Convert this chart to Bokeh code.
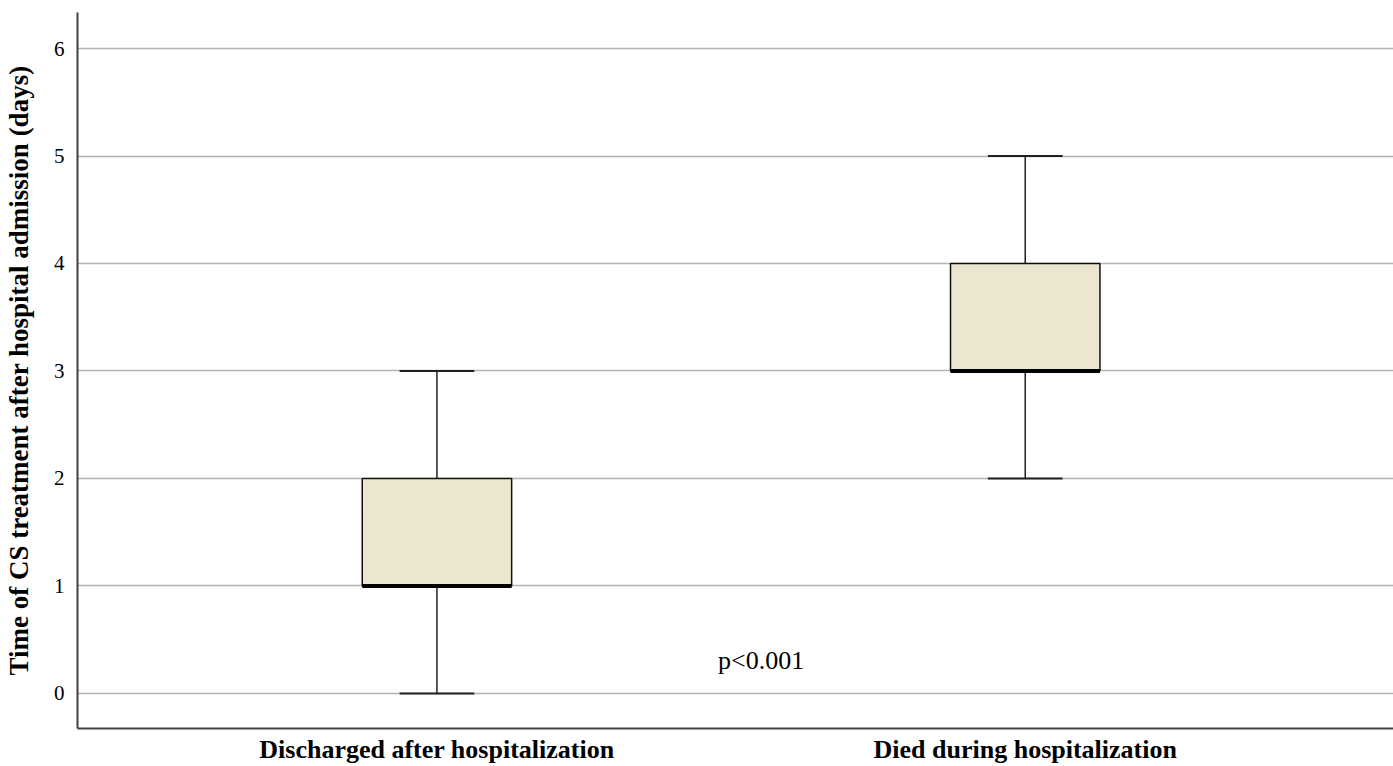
from bokeh.plotting import figure
from bokeh.models import Range1d, FixedTicker, ColumnDataSource, Label
from bokeh.embed import file_html
from bokeh.resources import INLINE

# ---- data ----
groups = ["Discharged after hospitalization", "Died during hospitalization"]
lower_whisker = [0, 2]
q1 = [1, 3]
median = [1, 3]
q3 = [2, 4]
upper_whisker = [3, 5]
y_ticks = [0, 1, 2, 3, 4, 5, 6]
p_text = "p<0.001"

FONT = "Liberation Serif"
box_w = 0.254
cap_w = box_w / 2

xs = list(range(len(groups)))
src = ColumnDataSource(dict(
    x=xs,
    lw=lower_whisker, q1=q1, med=median, q3=q3, uw=upper_whisker,
    cap_l=[x - cap_w / 2 for x in xs], cap_r=[x + cap_w / 2 for x in xs],
    box_l=[x - box_w / 2 for x in xs], box_r=[x + box_w / 2 for x in xs],
))

p = figure(width=1393, height=766, output_backend="svg", toolbar_location=None,
           x_range=Range1d(-0.611, 1.626), y_range=Range1d(-0.326, 6.335),
           min_border_left=77, min_border_right=0, min_border_top=12, min_border_bottom=36)
p.outline_line_color = None
p.background_fill_color = "white"

# whiskers
p.segment(x0="x", y0="q3", x1="x", y1="uw", source=src, line_color="#202020", line_width=1.5)
p.segment(x0="x", y0="lw", x1="x", y1="q1", source=src, line_color="#202020", line_width=1.5)
# caps
p.segment(x0="cap_l", y0="uw", x1="cap_r", y1="uw", source=src, line_color="#202020", line_width=2)
p.segment(x0="cap_l", y0="lw", x1="cap_r", y1="lw", source=src, line_color="#202020", line_width=2)
# boxes
p.quad(left="box_l", right="box_r", bottom="q1", top="q3", source=src,
       fill_color="#ece6d1", line_color="#101010", line_width=1.5)
# median
p.segment(x0="box_l", y0="med", x1="box_r", y1="med", source=src, line_color="black", line_width=4)

p.add_layout(Label(x=0.551, y=0.307, text=p_text, text_font=FONT, text_font_size="26px",
                   text_align="center", text_baseline="middle", text_color="black"))

# axes
p.xaxis.ticker = FixedTicker(ticks=xs)
p.xaxis.major_label_overrides = {i: g for i, g in enumerate(groups)}
p.xaxis.major_label_text_font = FONT
p.xaxis.major_label_text_font_style = "bold"
p.xaxis.major_label_text_font_size = "26px"
p.xaxis.major_label_text_color = "black"
p.xaxis.major_label_standoff = 0

p.yaxis.ticker = FixedTicker(ticks=y_ticks)
p.yaxis.major_label_text_font = FONT
p.yaxis.major_label_text_font_size = "21px"
p.yaxis.major_label_text_color = "black"
p.yaxis.major_label_standoff = 7
p.yaxis.axis_label = "Time of CS treatment after hospital admission (days)"
p.yaxis.axis_label_text_font = FONT
p.yaxis.axis_label_text_font_style = "bold"
p.yaxis.axis_label_text_font_size = "27px"
p.yaxis.axis_label_text_color = "black"
p.yaxis.axis_label_standoff = 17

for ax in (p.xaxis, p.yaxis):
    ax.major_tick_line_color = None
    ax.minor_tick_line_color = None
    ax.axis_line_color = "#404040"
    ax.axis_line_width = 2

p.xgrid.grid_line_color = None
p.ygrid.grid_line_color = "#b4b4b4"
p.ygrid.grid_line_width = 1.5

open("out.html", "w").write(file_html(p, INLINE))
